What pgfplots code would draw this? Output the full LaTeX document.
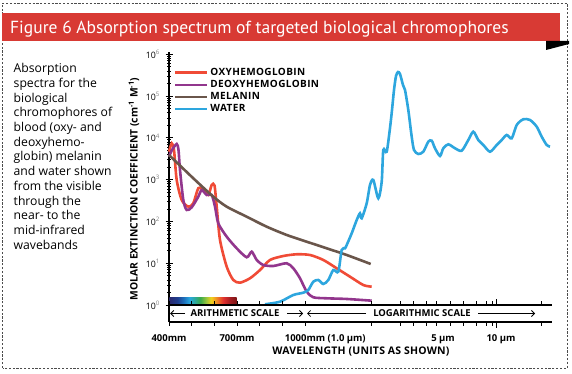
\documentclass[border=0pt]{standalone}
\usepackage{fontspec}
\setmainfont{Open Sans}
\newfontfamily\headfont{PT Sans}
\usepackage{pgfplots}
\pgfplotsset{compat=1.18}
\usepackage{pgfplotstable}
\usetikzlibrary{arrows.meta}
\definecolor{barred}{HTML}{D83A34}
\definecolor{oxy}{HTML}{F04B36}
\definecolor{deoxy}{HTML}{92368D}
\definecolor{melanin}{HTML}{6A564B}
\definecolor{water}{HTML}{2DA6DE}
\definecolor{sp1}{HTML}{2B2A6E}
\definecolor{sp2}{HTML}{1F3E8F}
\definecolor{sp3}{HTML}{1E73BE}
\definecolor{sp4}{HTML}{29A8DF}
\definecolor{sp5}{HTML}{2CA89A}
\definecolor{sp6}{HTML}{3AAA4A}
\definecolor{sp7}{HTML}{9CC53C}
\definecolor{sp8}{HTML}{F2D21B}
\definecolor{sp9}{HTML}{F08A24}
\definecolor{sp10}{HTML}{E2312F}
\definecolor{sp11}{HTML}{A51E22}
\definecolor{sp12}{HTML}{7A1414}
\pgfdeclarehorizontalshading{spectrum}{100bp}{color(0bp)=(sp1); color(25bp)=(sp1); color(31bp)=(sp2); color(36bp)=(sp3); color(40bp)=(sp4); color(44bp)=(sp5); color(48bp)=(sp6); color(52.5bp)=(sp7); color(56bp)=(sp8); color(60bp)=(sp9); color(65bp)=(sp10); color(70bp)=(sp11); color(75bp)=(sp12); color(100bp)=(sp12)}

% x: position along the drawn scale (0 = 400 nm, 136 = 1000 nm, 327.7 = 10 um)
% y: decades above the lowest axis label
\pgfplotstableread{
x y
0 3.667
2.7 3.868
5 3.708
7.7 2.990
12.7 2.512
19.3 2.352
24.3 2.433
29.3 2.792
34.3 2.751
39.3 2.632
42.7 2.871
45.5 2.859
47.7 2.352
51 1.555
57.7 0.916
64.3 0.598
71 0.534
81 0.639
91 0.837
101 1.077
114.3 1.172
127.7 1.213
141 1.196
154.3 1.077
167.7 0.878
181 0.677
194.3 0.478
202.7 0.438
}\oxytab
\pgfplotstableread{
x y
0 3.548
3 3.708
7.7 3.852
9.5 3.708
11 3.230
14.3 2.512
17.7 2.273
22.7 2.337
29.3 2.591
32.7 2.751
37.7 2.632
42.7 2.632
46 2.352
49.3 1.955
57.7 1.634
67.7 1.356
77.7 1.141
82.7 1.275
87.7 1.077
94.3 0.957
104.3 0.933
117.7 0.998
124.3 0.878
131 0.639
137.7 0.318
144.3 0.184
157.7 0.160
177.7 0.144
202.7 0.103
}\deoxytab
\pgfplotstableread{
x y
0 3.589
24.3 3.031
44.3 2.591
57.7 2.352
77.7 2.112
97.7 1.873
117.7 1.675
137.7 1.514
157.7 1.356
177.7 1.196
201.7 0.981
}\melanintab
\pgfplotstableread{
x y
96 0.017
111 0.079
124.3 0.239
134.3 0.294
139.3 0.359
144.3 0.557
149.3 0.598
154.3 0.502
159.3 0.598
164.3 0.837
169.3 0.797
172.7 1.316
176 1.356
177.7 1.435
182.7 1.715
187.7 2.033
191 2.194
192.7 2.074
197.7 2.433
201 2.871
204.3 2.990
209.3 2.553
212.7 2.950
214.3 3.708
217.7 3.667
221 4.234
223 4.665
225 5.144
227 5.478
229 5.574
231 5.526
234 5.263
236 5.144
239.3 4.665
242.7 4.026
245 3.708
249.3 3.612
254.3 3.667
259.3 3.907
262.7 3.931
266 3.749
271 3.565
274.3 3.749
279.3 3.844
286 3.749
292.7 3.691
299.3 3.947
304.3 4.146
309.3 3.947
314.3 3.828
321 3.667
327.7 3.828
332.7 3.947
337.7 4.067
342.7 3.988
347.7 4.306
354.3 4.443
361 4.426
367.7 4.266
372.7 4.026
377.7 3.828
381 3.788
}\watertab

\begin{document}
\begin{tikzpicture}[x=1pt,y=1pt]
% frame
\draw[black!70, line width=0.8pt, dash pattern=on 2.2pt off 1.6pt] (2.5,5) rectangle (567,370);
% header
\fill[barred] (2,332) rectangle (560,359.5);
\fill[black] (546,332) -- (569,332) -- (569,329) -- (546,323) -- cycle;
\node[anchor=base west, text=white, font=\headfont\fontsize{17.5}{20}\selectfont, inner sep=0] at (10,339.4) {Figure 6 Absorption spectrum of targeted biological chromophores};
% side text
\node[anchor=north west, inner sep=0, align=left, font=\fontsize{12.2}{14.67}\selectfont] at (13.5,309.5) {Absorption\\spectra for the\\biological\\chromophores of\\blood (oxy- and\\deoxyhemo-\\globin) melanin\\and water shown\\from the visible\\through the\\near- to the\\mid-infrared\\wavebands};
% axis labels
\node[rotate=90, font=\bfseries\fontsize{10.3}{12}\selectfont] at (134,184) {MOLAR EXTINCTION COEFFICIENT (cm\textsuperscript{-1} M\textsuperscript{-1})};
\node[font=\bfseries\fontsize{10.5}{13}\selectfont\addfontfeatures{LetterSpace=2}] at (361,21) {WAVELENGTH (UNITS AS SHOWN)};

\begin{axis}[
  at={(169pt,51pt)}, anchor=south west,
  scale only axis, width=383pt, height=269.9pt,
  xmin=0, xmax=383, ymin=-0.407, ymax=6.05,
  axis x line=none, axis y line*=left,
  axis line style={line width=1.2pt},
  ytick={0,1,2,3,4,5,6},
  yticklabels={10\textsuperscript{\color{gray}0},10\textsuperscript{\color{gray}1},10\textsuperscript{\color{gray}2},10\textsuperscript{\color{gray}3},10\textsuperscript{\color{gray}4},10\textsuperscript{\color{gray}5},10\textsuperscript{\color{gray}6}},
  minor ytick={0.301,0.477,0.602,0.699,0.778,0.845,0.903,0.954,1.301,1.477,1.602,1.699,1.778,1.845,1.903,1.954,2.301,2.477,2.602,2.699,2.778,2.845,2.903,2.954,3.301,3.477,3.602,3.699,3.778,3.845,3.903,3.954,4.301,4.477,4.602,4.699,4.778,4.845,4.903,4.954,5.301,5.477,5.602,5.699,5.778,5.845,5.903,5.954},
  tick align=center, major tick length=7pt, minor tick length=4pt,
  every tick/.style={black, line width=0.9pt},
  minor tick style={line width=0.6pt},
  yticklabel style={font=\fontsize{8.8}{10}\selectfont, xshift=-2pt},
  clip=false,
  legend style={at={(0.012,0.948)}, anchor=north west, draw=none, fill=none,
    font=\bfseries\fontsize{10}{11}\selectfont\addfontfeatures{LetterSpace=4}, row sep=-0.6pt, inner sep=0pt,
    cells={anchor=west}},
  legend image code/.code={\draw[#1] (0pt,0pt) -- (32pt,0pt);},
  every axis plot/.append style={line width=2.6pt, smooth, tension=0.45},
]
% spectrum strip
\shade[shading=spectrum] (axis cs:0.4,0.01) rectangle (axis cs:67.7,0.19);
\addplot[oxy] table {\oxytab};
\addlegendentry{OXYHEMOGLOBIN}
\addplot[deoxy] table {\deoxytab};
\addlegendentry{DEOXYHEMOGLOBIN}
\addplot[melanin] table {\melanintab};
\addlegendentry{MELANIN}
\addplot[water] table {\watertab};
\addlegendentry{WATER}
% the two horizontal scale lines
\draw[line width=1.2pt] (axis cs:0,0) -- (axis cs:383,0);
\draw[line width=1.2pt] (axis cs:0,-0.407) -- (axis cs:383,-0.407);
\pgfplotsinvokeforeach{0,22.67,45.33,68,90.67,113.33,136,202.7,231,244,257,267.7,281,294,307,317.7,323.7,327.7,372.7}{
  \draw[line width=0.8pt] (axis cs:#1,0) -- ++(0pt,3.5pt);
  \draw[line width=0.8pt] (axis cs:#1,-0.407) -- ++(0pt,-3.5pt);
}
\draw[line width=0.8pt] (axis cs:327.7,0) -- ++(0pt,5.5pt);
\draw[line width=0.8pt] (axis cs:327.7,-0.407) -- ++(0pt,-5.5pt);
% scale annotations
\node[font=\bfseries\fontsize{9.5}{11}\selectfont] at (axis cs:66,-0.2035) {ARITHMETIC SCALE};
\node[font=\bfseries\fontsize{9.5}{11}\selectfont] at (axis cs:253,-0.2035) {LOGARITHMIC SCALE};
\draw[-{Straight Barb[length=3pt,width=6pt]}, line width=0.8pt] (axis cs:16,-0.2035) -- (axis cs:1.2,-0.2035);
\draw[-{Straight Barb[length=3pt,width=6pt]}, line width=0.8pt] (axis cs:118,-0.2035) -- (axis cs:134,-0.2035);
\draw[-{Straight Barb[length=3pt,width=6pt]}, line width=0.8pt] (axis cs:197,-0.2035) -- (axis cs:138,-0.2035);
\draw[-{Straight Barb[length=3pt,width=6pt]}, line width=0.8pt] (axis cs:309,-0.2035) -- (axis cs:366,-0.2035);
% tick labels
\node[anchor=base, font=\bfseries\fontsize{9.5}{12}\selectfont] at ([yshift=-19pt]axis cs:0,-0.407) {400mm};
\node[anchor=base, font=\bfseries\fontsize{9.5}{12}\selectfont] at ([yshift=-19pt]axis cs:68,-0.407) {700mm};
\node[anchor=base, font=\bfseries\fontsize{9.5}{12}\selectfont] at ([yshift=-19pt]axis cs:136,-0.407) {1000mm\rlap{ (1.0 µm)}};
\node[anchor=base, font=\bfseries\fontsize{9.5}{12}\selectfont] at ([yshift=-19pt]axis cs:274,-0.407) {5 µm};
\node[anchor=base, font=\bfseries\fontsize{9.5}{12}\selectfont] at ([yshift=-19pt]axis cs:332,-0.407) {10 µm};
\end{axis}
\pgfresetboundingbox
\useasboundingbox (0,0) rectangle (572,373);
\end{tikzpicture}
\end{document}
